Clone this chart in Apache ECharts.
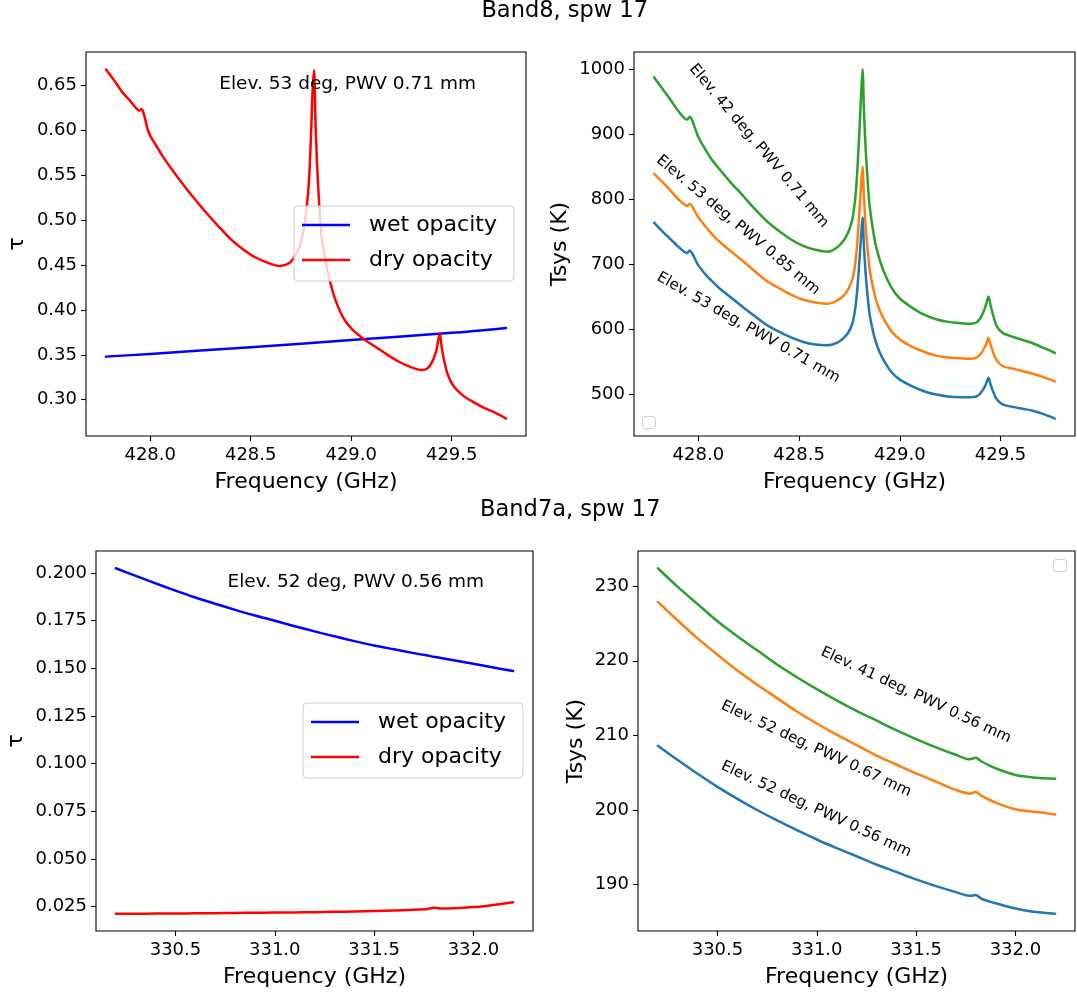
<!DOCTYPE html>
<html>
<head>
<meta charset="utf-8">
<title>Band8 / Band7a opacity and Tsys</title>
<script src="https://cdn.jsdelivr.net/npm/echarts@6/dist/echarts.min.js"></script>
<style>
  html, body { margin: 0; padding: 0; background: #ffffff; }
  #chart { width: 1077px; height: 993px; }
</style>
</head>
<body>
<div id="chart"></div>
<script>
// ---------------- Band 8, spw 17 ----------------
const freqBand8 = [
  427.78, 427.82, 427.86, 427.90, 427.93, 427.945, 427.957, 427.97, 427.985, 428.00,
  428.03, 428.06, 428.10, 428.16, 428.22, 428.28, 428.34, 428.40, 428.46, 428.52,
  428.58, 428.645, 428.69, 428.72, 428.745, 428.765, 428.78, 428.79, 428.80, 428.808,
  428.815, 428.822, 428.83, 428.84, 428.85, 428.865, 428.88, 428.90, 428.925, 428.96,
  429.00, 429.06, 429.12, 429.18, 429.24, 429.30, 429.35, 429.38, 429.40, 429.42,
  429.43, 429.44, 429.45, 429.46, 429.48, 429.51, 429.56, 429.61, 429.66, 429.72, 429.77
];
const dryTauBand8 = [
  0.668, 0.656, 0.643, 0.633, 0.625, 0.622, 0.624, 0.617, 0.603, 0.594,
  0.583, 0.572, 0.559, 0.541, 0.524, 0.508, 0.493, 0.479, 0.468, 0.459,
  0.453, 0.449, 0.452, 0.460, 0.472, 0.492, 0.518, 0.545, 0.595, 0.645,
  0.667, 0.612, 0.562, 0.520, 0.487, 0.464, 0.446, 0.427, 0.409, 0.3915,
  0.3795, 0.368, 0.359, 0.350, 0.342, 0.336, 0.333, 0.335, 0.341, 0.352,
  0.362, 0.374, 0.359, 0.346, 0.328, 0.315, 0.304, 0.297, 0.291, 0.285, 0.279
];
const freqWetBand8 = [427.78, 428.0, 428.5, 429.0, 429.5, 429.77];
const wetTauBand8 = [0.348, 0.351, 0.3585, 0.3665, 0.3745, 0.380];

// Tsys (K) on freqBand8
const tsysBand8El53Pwv071 = [
  764, 751, 739, 727, 719, 717, 721, 716, 707, 698,
  686, 676, 664, 649, 634, 620, 606, 596, 587, 580,
  576, 575, 579, 586, 595, 609, 634, 666, 708, 745,
  772, 726, 687, 651, 623, 599, 581, 564, 549, 533,
  522, 512, 504, 499, 496, 495, 495, 496, 501, 510,
  517, 525, 515, 506, 492, 484, 480, 477, 474, 468, 462
];
const tsysBand8El53Pwv085 = [
  839, 827, 814, 800, 792, 790, 793, 789, 780, 772,
  760, 749, 736, 720, 705, 689, 674, 663, 653, 645,
  641, 639, 644, 651, 662, 677, 704, 738, 784, 823,
  850, 803, 761, 723, 692, 667, 647, 629, 613, 596,
  584, 573, 565, 559, 556, 555, 554, 556, 561, 571,
  578, 586, 576, 567, 552, 543, 539, 535, 531, 525, 519
];
const tsysBand8El42Pwv071 = [
  988, 971, 954, 936, 925, 923, 927, 921, 908, 896,
  879, 864, 848, 826, 806, 785, 766, 751, 738, 728,
  722, 719, 726, 736, 750, 770, 805, 850, 910, 962,
  1000, 935, 880, 830, 790, 756, 730, 707, 685, 663,
  647, 633, 622, 615, 611, 609, 608, 610, 617, 630,
  640, 650, 637, 625, 605, 594, 588, 583, 578, 570, 563
];

// ---------------- Band 7a, spw 17 ----------------
const freqBand7a = [
  330.2, 330.3, 330.4, 330.5, 330.6, 330.7, 330.8, 330.9, 331.0, 331.1,
  331.2, 331.3, 331.4, 331.5, 331.6, 331.7, 331.77, 331.80, 331.83, 331.9,
  332.0, 332.08, 332.12, 332.2
];
const wetTauBand7a = [
  0.2025, 0.1985, 0.1946, 0.1908, 0.1872, 0.1839, 0.1807, 0.1777, 0.1750, 0.1721,
  0.1694, 0.1668, 0.1643, 0.1620, 0.1600, 0.1580, 0.1567, 0.1561, 0.1556, 0.1543,
  0.1524, 0.1509, 0.1501, 0.1486
];
const dryTauBand7a = [
  0.0213, 0.0213, 0.0214, 0.0214, 0.0215, 0.0216, 0.0217, 0.0218, 0.0219, 0.0220,
  0.0221, 0.0223, 0.0225, 0.0227, 0.0230, 0.0234, 0.0238, 0.0245, 0.0241, 0.0242,
  0.0248, 0.0256, 0.0261, 0.0273
];
const tsysBand7aEl52Pwv056 = [
  208.6, 206.7, 204.85, 203.1, 201.5, 200.0, 198.6, 197.3, 196.05, 194.9,
  193.8, 192.7, 191.7, 190.7, 189.8, 189.0, 188.5, 188.6, 188.1, 187.5,
  186.8, 186.4, 186.3, 186.1
];
const tsysBand7aEl52Pwv067 = [
  227.9, 225.4, 223.0, 220.8, 218.7, 216.8, 215.0, 213.2, 211.6, 210.1,
  208.7, 207.3, 206.1, 204.9, 203.8, 202.7, 202.2, 202.4, 201.9, 201.0,
  200.1, 199.8, 199.7, 199.4
];
const tsysBand7aEl41Pwv056 = [
  232.4, 229.9, 227.6, 225.3, 223.3, 221.4, 219.5, 217.8, 216.2, 214.7,
  213.3, 212.0, 210.7, 209.5, 208.4, 207.4, 206.8, 207.0, 206.5, 205.6,
  204.7, 204.4, 204.3, 204.2
];

// ---------------- tick labels ----------------
const ticksFreqBand8 = [428.0, 428.5, 429.0, 429.5];
const ticksFreqBand7a = [330.5, 331.0, 331.5, 332.0];
const ticksTauBand8 = [0.30, 0.35, 0.40, 0.45, 0.50, 0.55, 0.60, 0.65];
const ticksTsysBand8 = [500, 600, 700, 800, 900, 1000];
const ticksTauBand7a = [0.025, 0.050, 0.075, 0.100, 0.125, 0.150, 0.175, 0.200];
const ticksTsysBand7a = [190, 200, 210, 220, 230];

// ---------------- text ----------------
const panelTitles = ['Band8, spw 17', 'Band7a, spw 17'];
const opacityNames = ['wet opacity', 'dry opacity'];
const band8Conditions = ['Elev. 53 deg, PWV 0.71 mm', 'Elev. 53 deg, PWV 0.85 mm', 'Elev. 42 deg, PWV 0.71 mm'];
const band7aConditions = ['Elev. 52 deg, PWV 0.56 mm', 'Elev. 52 deg, PWV 0.67 mm', 'Elev. 41 deg, PWV 0.56 mm'];

// ---------------- layout & style ----------------
const FONT = '"DejaVu Sans", "Liberation Sans", sans-serif';
const BLACK = '#000000';
const GRIDS = [
  { left: 86, top: 52, width: 440, height: 384 },
  { left: 634, top: 52, width: 441, height: 384 },
  { left: 96, top: 551, width: 437, height: 380 },
  { left: 638, top: 551, width: 437, height: 380 }
];
const TAB = { blue: '#1f77b4', orange: '#ff7f0e', green: '#2ca02c' };
const LINE_W = 2.5;

const pairs = (xs, ys) => xs.map((x, i) => [x, ys[i]]);
// autoscale with 5 % margins on each side
function paddedRange(lists) {
  let lo = Infinity, hi = -Infinity;
  lists.forEach(a => a.forEach(v => { lo = Math.min(lo, v); hi = Math.max(hi, v); }));
  const p = (hi - lo) * 0.05;
  return [lo - p, hi + p];
}

const xRange8 = paddedRange([freqBand8, freqWetBand8]);
const xRange7 = paddedRange([freqBand7a]);
const yRangeTau8 = paddedRange([dryTauBand8, wetTauBand8]);
const yRangeTsys8 = paddedRange([tsysBand8El53Pwv071, tsysBand8El53Pwv085, tsysBand8El42Pwv071]);
const yRangeTau7 = paddedRange([dryTauBand7a, wetTauBand7a]);
const yRangeTsys7 = paddedRange([tsysBand7aEl52Pwv056, tsysBand7aEl52Pwv067, tsysBand7aEl41Pwv056]);

function xAxisCfg(gridIndex, range, ticks) {
  return {
    type: 'value', gridIndex, min: range[0], max: range[1],
    axisLine: { show: false },
    axisTick: { show: true, customValues: ticks, length: 5, lineStyle: { color: BLACK, width: 1.1 } },
    axisLabel: { customValues: ticks, formatter: v => v.toFixed(1), color: BLACK, fontSize: 18, fontFamily: FONT, margin: 10 },
    splitLine: { show: false },
    name: 'Frequency (GHz)', nameLocation: 'middle', nameGap: 35,
    nameTextStyle: { color: BLACK, fontSize: 22, fontFamily: FONT }
  };
}
function yAxisCfg(gridIndex, range, ticks, digits, name, nameGap) {
  return {
    type: 'value', gridIndex, min: range[0], max: range[1],
    axisLine: { show: false },
    axisTick: { show: true, customValues: ticks, length: 5, lineStyle: { color: BLACK, width: 1.1 } },
    axisLabel: { customValues: ticks, formatter: v => v.toFixed(digits), color: BLACK, fontSize: 18, fontFamily: FONT, margin: 9 },
    splitLine: { show: false },
    name, nameLocation: 'middle', nameGap, nameRotate: 90,
    nameTextStyle: { color: BLACK, fontSize: 22, fontFamily: FONT }
  };
}
function lineSeries(name, idx, data, color) {
  return {
    type: 'line', name, xAxisIndex: idx, yAxisIndex: idx, data,
    showSymbol: false, symbol: 'none', smooth: 0.3, animation: false,
    color, itemStyle: { color }, lineStyle: { color, width: LINE_W, join: 'round', cap: 'round' },
    emphasis: { disabled: true }
  };
}
function legendCfg(left, top) {
  return {
    left, top, orient: 'vertical', data: opacityNames.slice(),
    icon: 'rect', itemWidth: 48, itemHeight: 2.4, itemGap: 11,
    padding: [7, 17, 9, 8],
    backgroundColor: 'rgba(255,255,255,0.8)', borderColor: '#cccccc', borderWidth: 1, borderRadius: 4,
    textStyle: { color: BLACK, fontSize: 22, fontFamily: FONT, lineHeight: 24, padding: [0, 0, 0, 14] },
    selectedMode: false, z: 10
  };
}

const chart = echarts.init(document.getElementById('chart'), null, { renderer: 'canvas' });

chart.setOption({
  backgroundColor: '#ffffff',
  animation: false,
  grid: GRIDS.map(g => Object.assign({ show: true, borderColor: BLACK, borderWidth: 1.1, backgroundColor: 'transparent', containLabel: false }, g)),
  xAxis: [
    xAxisCfg(0, xRange8, ticksFreqBand8),
    xAxisCfg(1, xRange8, ticksFreqBand8),
    xAxisCfg(2, xRange7, ticksFreqBand7a),
    xAxisCfg(3, xRange7, ticksFreqBand7a)
  ],
  yAxis: [
    yAxisCfg(0, yRangeTau8, ticksTauBand8, 2, 'τ', 58),
    yAxisCfg(1, yRangeTsys8, ticksTsysBand8, 0, 'Tsys (K)', 63),
    yAxisCfg(2, yRangeTau7, ticksTauBand7a, 3, 'τ', 69),
    yAxisCfg(3, yRangeTsys7, ticksTsysBand7a, 0, 'Tsys (K)', 51)
  ],
  legend: [legendCfg(294, 206), legendCfg(303, 703)],
  series: [
    lineSeries(opacityNames[0], 0, pairs(freqWetBand8, wetTauBand8), '#0000ff'),
    lineSeries(opacityNames[1], 0, pairs(freqBand8, dryTauBand8), '#ff0000'),
    lineSeries(band8Conditions[0], 1, pairs(freqBand8, tsysBand8El53Pwv071), TAB.blue),
    lineSeries(band8Conditions[1], 1, pairs(freqBand8, tsysBand8El53Pwv085), TAB.orange),
    lineSeries(band8Conditions[2], 1, pairs(freqBand8, tsysBand8El42Pwv071), TAB.green),
    lineSeries(opacityNames[0], 2, pairs(freqBand7a, wetTauBand7a), '#0000ff'),
    lineSeries(opacityNames[1], 2, pairs(freqBand7a, dryTauBand7a), '#ff0000'),
    lineSeries(band7aConditions[0], 3, pairs(freqBand7a, tsysBand7aEl52Pwv056), TAB.blue),
    lineSeries(band7aConditions[1], 3, pairs(freqBand7a, tsysBand7aEl52Pwv067), TAB.orange),
    lineSeries(band7aConditions[2], 3, pairs(freqBand7a, tsysBand7aEl41Pwv056), TAB.green)
  ]
});

// Text annotations, anchored in data coordinates of their panel
const notes = [
  { grid: 0, at: [428.982, 0.6515], text: band8Conditions[0], size: 18.5, angle: 0 },
  { grid: 1, at: [428.30, 882], text: band8Conditions[2], size: 15, angle: -50 },
  { grid: 1, at: [428.197, 760], text: band8Conditions[1], size: 15, angle: -40 },
  { grid: 1, at: [428.248, 602], text: band8Conditions[0], size: 15, angle: -29.7 },
  { grid: 2, at: [331.408, 0.195], text: band7aConditions[0], size: 18.5, angle: 0 },
  { grid: 3, at: [331.499, 215.4], text: band7aConditions[2], size: 15, angle: -25 },
  { grid: 3, at: [330.997, 208.2], text: band7aConditions[1], size: 15, angle: -25 },
  { grid: 3, at: [330.997, 200.1], text: band7aConditions[0], size: 15, angle: -25 }
];

const graphics = [];
notes.forEach(n => {
  const p = chart.convertToPixel({ gridIndex: n.grid }, n.at);
  graphics.push({
    type: 'text', x: p[0], y: p[1], rotation: n.angle * Math.PI / 180, z: 5,
    style: { text: n.text, fill: BLACK, fontSize: n.size, fontFamily: FONT, align: 'center', verticalAlign: 'middle' }
  });
});

// panel titles
graphics.push({
  type: 'text', x: 564.7, y: 11, z: 5,
  style: { text: panelTitles[0], fill: BLACK, fontSize: 22.5, fontFamily: FONT, align: 'center', verticalAlign: 'middle' }
});
graphics.push({
  type: 'text', x: 570.3, y: 510, z: 5,
  style: { text: panelTitles[1], fill: BLACK, fontSize: 22.5, fontFamily: FONT, align: 'center', verticalAlign: 'middle' }
});

// empty legend frames of the Tsys panels
const g1 = GRIDS[1], g3 = GRIDS[3];
graphics.push({
  type: 'rect', z: 6,
  shape: { x: g1.left + 8.5, y: g1.top + g1.height - 19.5, width: 13, height: 12, r: 3 },
  style: { fill: 'rgba(255,255,255,0.8)', stroke: '#cccccc', lineWidth: 1 }
});
graphics.push({
  type: 'rect', z: 6,
  shape: { x: g3.left + g3.width - 21.5, y: g3.top + 8.5, width: 13, height: 12, r: 3 },
  style: { fill: 'rgba(255,255,255,0.8)', stroke: '#cccccc', lineWidth: 1 }
});

chart.setOption({ graphic: graphics });
</script>
</body>
</html>
